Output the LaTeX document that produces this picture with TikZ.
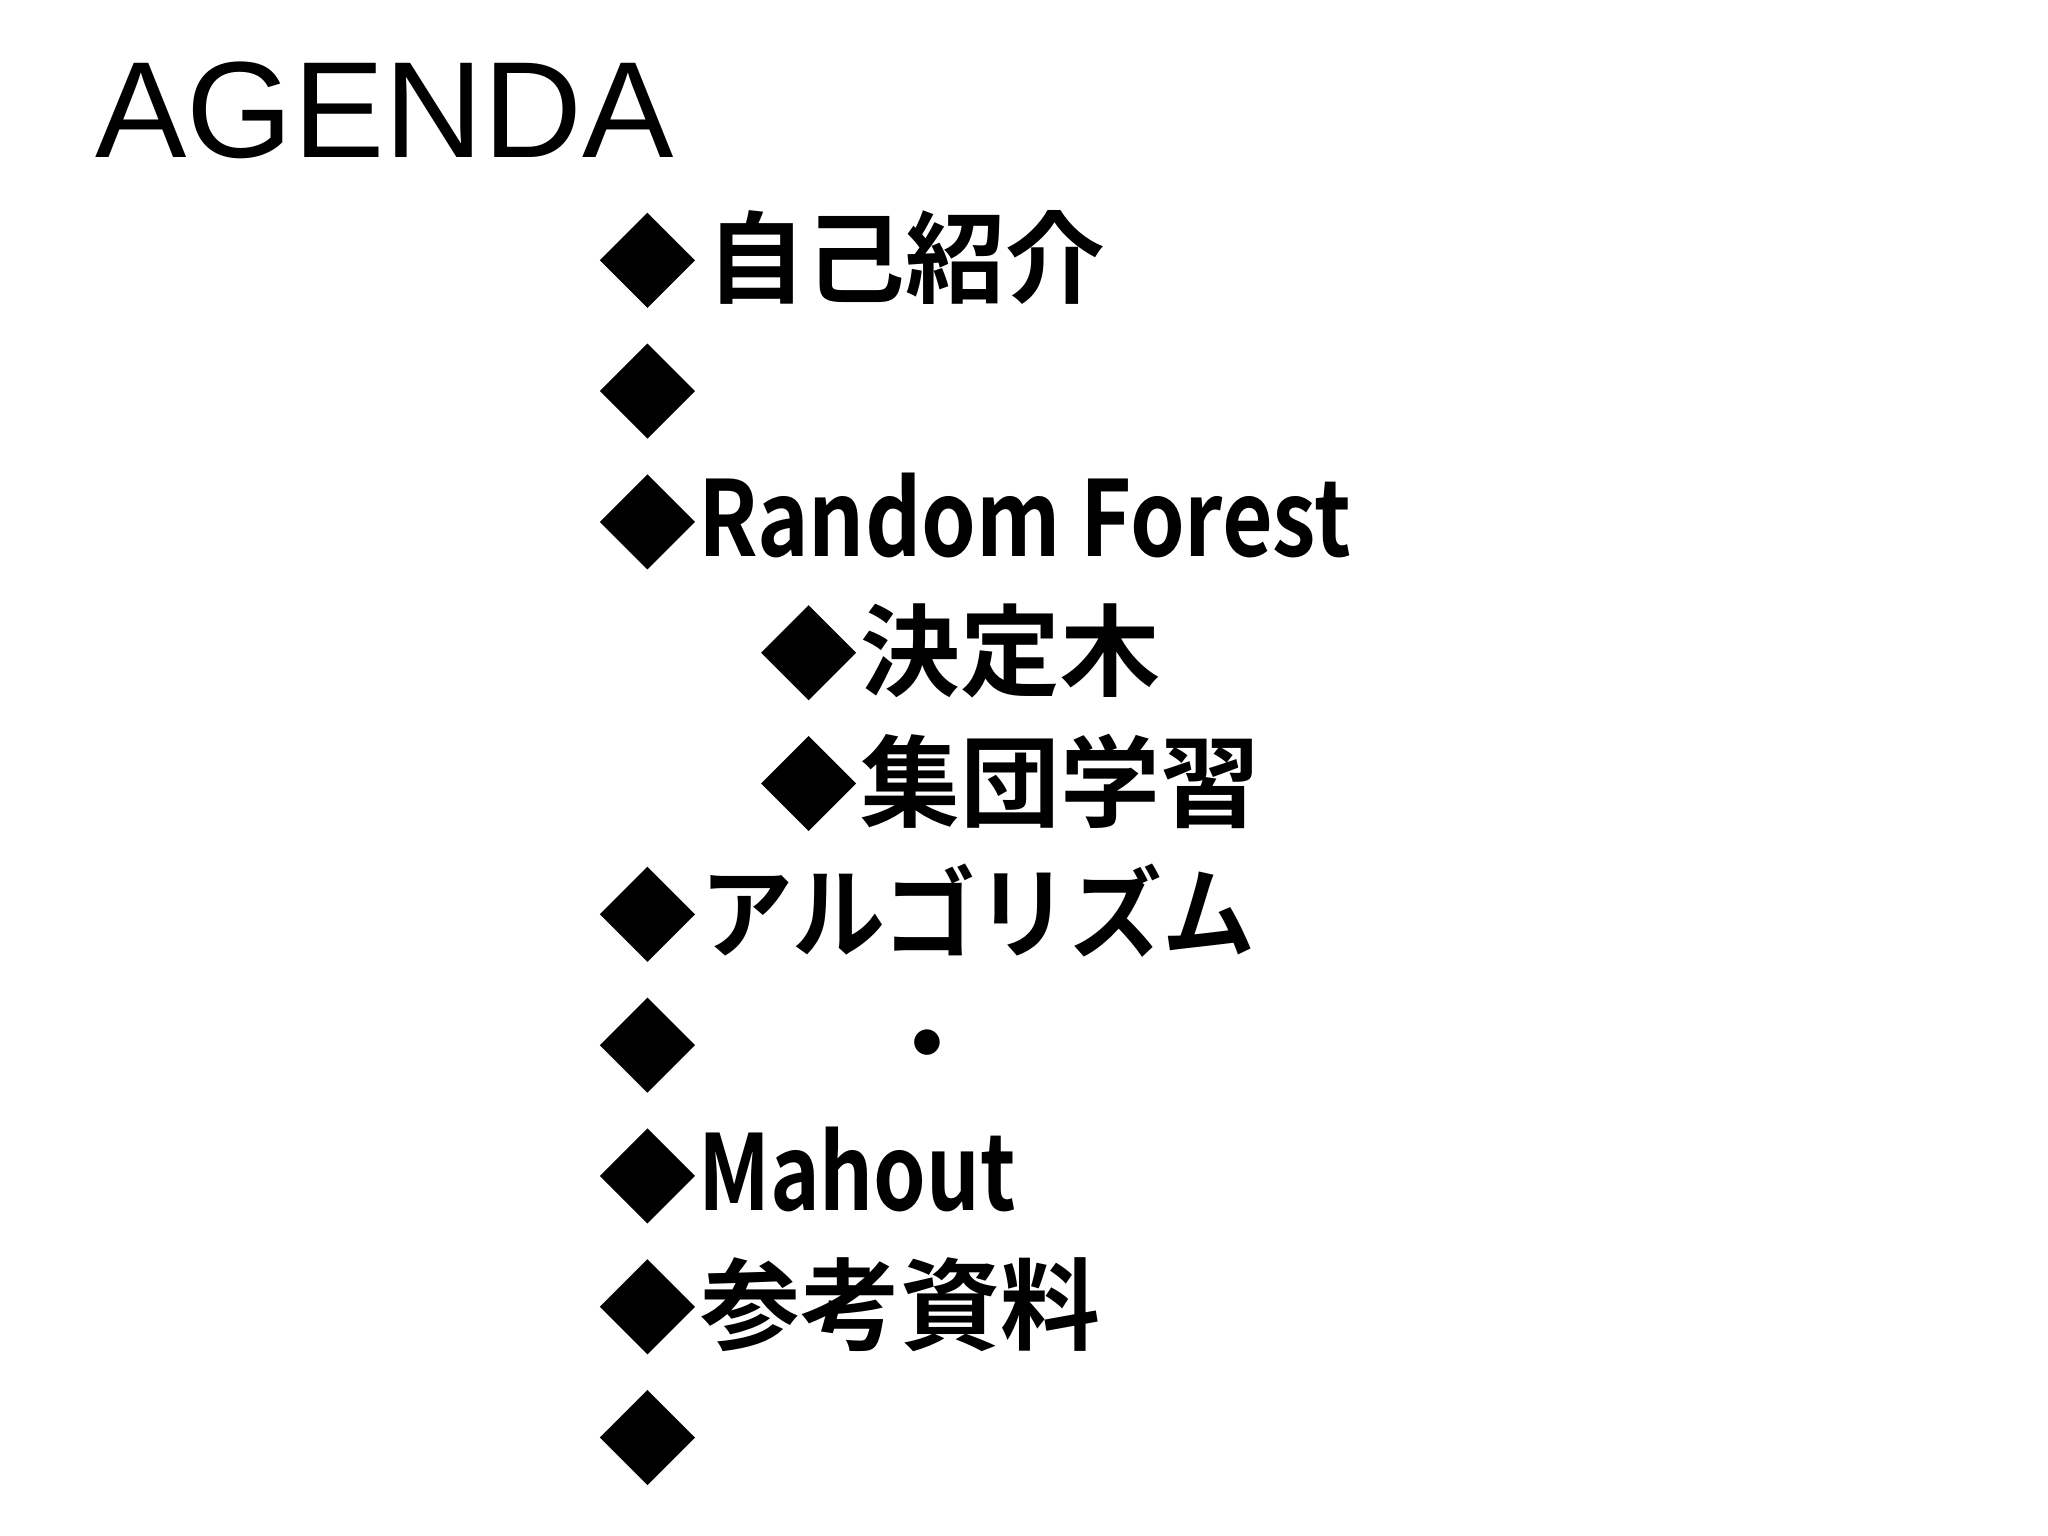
\documentclass[tikz,border=0pt]{standalone}
\usepackage{fontspec}
\setmainfont{Liberation Sans}
\newfontfamily\jp{Noto Sans CJK JP Bold}
\begin{document}
\begin{tikzpicture}[x=0.02cm,y=-0.02cm,
  dia/.style={fill=black},
  jtxt/.style={anchor=base west,inner sep=0pt,font=\jp\fontsize{43}{43}\selectfont},
  ltxt/.style={anchor=base west,inner sep=0pt,font=\jp\fontsize{46}{46}\selectfont}]
\useasboundingbox (0,0) rectangle (1550,1162);
\node[anchor=base west,inner sep=0pt,font=\fontsize{59}{59}\selectfont] (title) at (72,119) {AGENDA};
\foreach \x/\y/\n in {490/197/a,490/296/b,490/395/c,612/494/d,612/593/e,490/692/f,490/791/g,490/890/h,490/989/i,490/1088/j}{
  \fill[dia] (\x-36,\y) -- (\x,\y-36) -- (\x+36,\y) -- (\x,\y+36) -- cycle;
  \coordinate (\n) at (\x+38,\y);
}
\node[jtxt] (t1) at (534,224) {自己紹介};
\node[ltxt] (t3) at ([shift={(0,26)}]c) {\scalebox{0.82}[0.98]{Random Forest}};
\node[jtxt] (t4) at (651,521) {決定木};
\node[jtxt] (t5) at (651,620) {集団学習};
\node[jtxt] (t6) at (530,719) {\scalebox{0.93}[1]{アルゴリズム}};
\node[jtxt] (t7) at (664,818) {・};
\node[ltxt] (t8) at ([shift={(0,26)}]h) {\scalebox{0.79}[0.98]{Mahout}};
\node[jtxt] (t9) at (530,1016) {参考資料};
\end{tikzpicture}
\end{document}
